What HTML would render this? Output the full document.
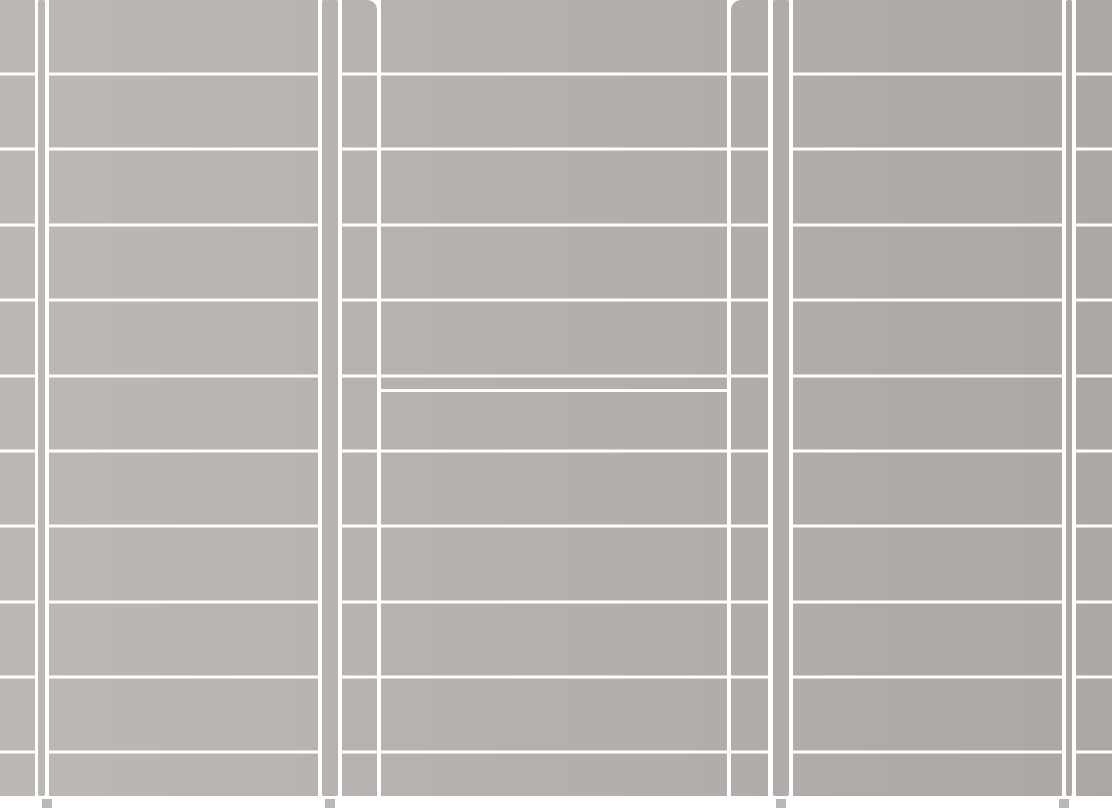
<!DOCTYPE html>
<html><head><meta charset="utf-8"><style>
html,body{margin:0;padding:0;background:#fff;width:1112px;height:809px;overflow:hidden}
svg{display:block}
</style></head><body>
<svg id="s" width="1112" height="809" viewBox="0 0 1112 809" xmlns="http://www.w3.org/2000/svg">
<defs><linearGradient id="g" gradientUnits="userSpaceOnUse" x1="0" x2="1112" y1="0" y2="0"><stop offset="0" stop-color="#bdb8b5"/><stop offset="1" stop-color="#aca7a4"/></linearGradient></defs>
<rect x="0" y="0" width="1112" height="809" fill="#fff"/>
</svg>
<script>
const panels=[[0,35],[49,318],[342,377],[381,727],[731,768],[793,1062],[1076,1112]];
const posts=[[38,45],[322,338],[773,789],[1066,1072]];
const rails=[74,149,225,300,376,451,526,602,677,752];
const feet=[42,325,776,1059];
const s=document.getElementById('s');
const NS='http://www.w3.org/2000/svg';
function r(x,y,w,h,f,rx){const e=document.createElementNS(NS,'rect');e.setAttribute('x',x);e.setAttribute('y',y);e.setAttribute('width',w);e.setAttribute('height',h);e.setAttribute('fill',f);if(rx)e.setAttribute('rx',rx);s.appendChild(e);return e;}
panels.forEach(p=>{const e=r(p[0],0,p[1]-p[0],796,'url(#g)');

});
posts.forEach(p=>{const e=r(p[0],0,p[1]-p[0],796,'url(#g)',2);

});
panels.forEach(p=>{rails.forEach(y=>{const e=r(p[0],y-1.5,p[1]-p[0],3,'#fff');

});});
const d=r(381,389,346,3,'#fff');


feet.forEach(x=>{const e=r(x,799,10,9,'#bcb7b4');

});
function corner(d){const e=document.createElementNS(NS,'path');e.setAttribute('d',d);e.setAttribute('fill','#fff');s.appendChild(e);

}
corner('M377 0 H367 A10 10 0 0 1 377 10 Z');
corner('M731 0 H741 A10 10 0 0 0 731 10 Z');
</script>
</body></html>
